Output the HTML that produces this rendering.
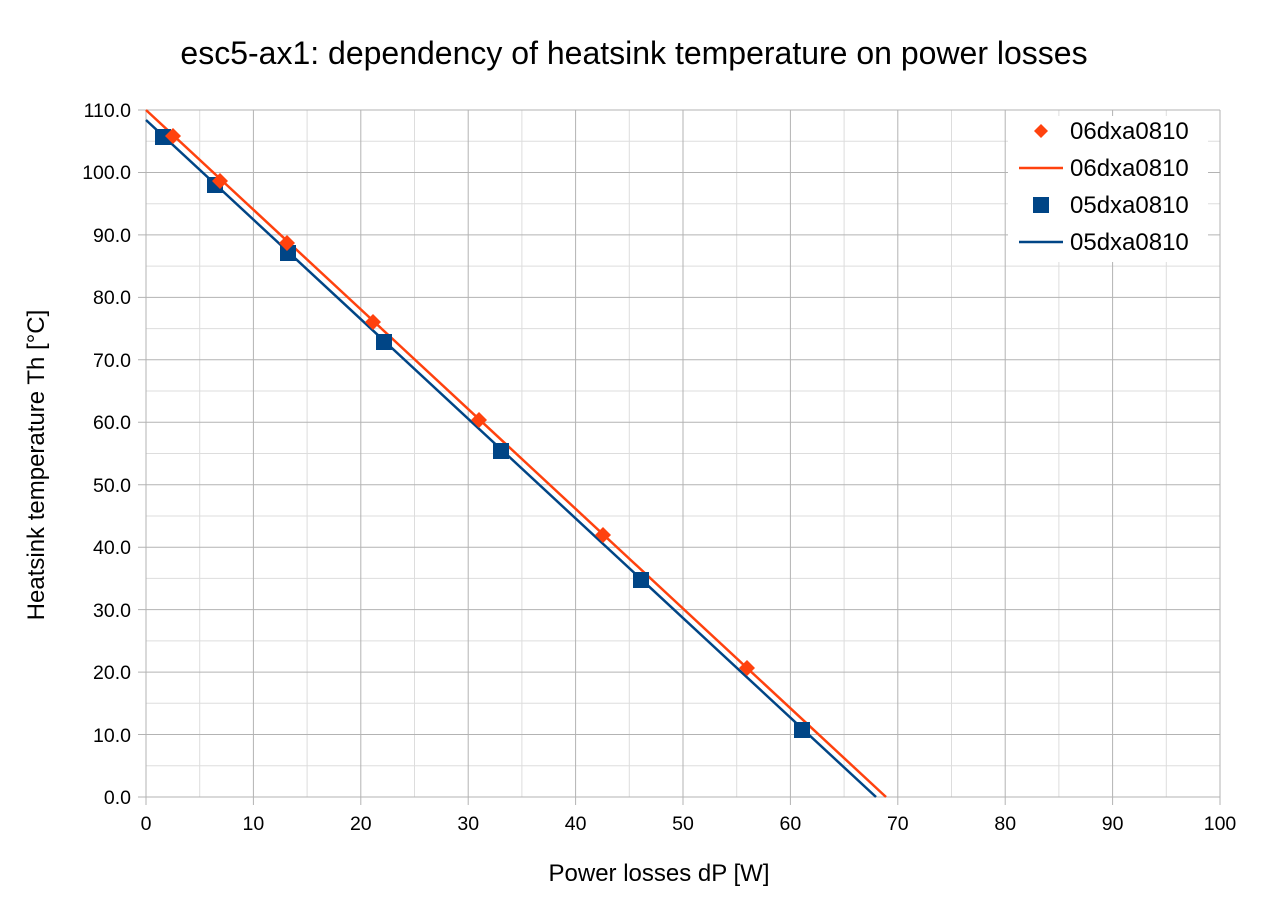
<!DOCTYPE html>
<html><head><meta charset="utf-8"><style>body{margin:0;background:#fff}svg{display:block}</style></head><body>
<svg width="1268" height="908" xmlns="http://www.w3.org/2000/svg" font-family="Liberation Sans, sans-serif">
<rect width="1268" height="908" fill="#fff"/>
<text x="634" y="64" font-size="32" text-anchor="middle" fill="#000">esc5-ax1: dependency of heatsink temperature on power losses</text>
<g stroke="#ddd" stroke-width="1">
<line x1="199.7" y1="110" x2="199.7" y2="797"/><line x1="307.1" y1="110" x2="307.1" y2="797"/><line x1="414.5" y1="110" x2="414.5" y2="797"/><line x1="521.9" y1="110" x2="521.9" y2="797"/><line x1="629.3" y1="110" x2="629.3" y2="797"/><line x1="736.7" y1="110" x2="736.7" y2="797"/><line x1="844.1" y1="110" x2="844.1" y2="797"/><line x1="951.5" y1="110" x2="951.5" y2="797"/><line x1="1058.9" y1="110" x2="1058.9" y2="797"/><line x1="1166.3" y1="110" x2="1166.3" y2="797"/>
<line x1="146" y1="141.2" x2="1220" y2="141.2"/><line x1="146" y1="203.7" x2="1220" y2="203.7"/><line x1="146" y1="266.1" x2="1220" y2="266.1"/><line x1="146" y1="328.6" x2="1220" y2="328.6"/><line x1="146" y1="391" x2="1220" y2="391"/><line x1="146" y1="453.5" x2="1220" y2="453.5"/><line x1="146" y1="516" x2="1220" y2="516"/><line x1="146" y1="578.4" x2="1220" y2="578.4"/><line x1="146" y1="640.9" x2="1220" y2="640.9"/><line x1="146" y1="703.3" x2="1220" y2="703.3"/><line x1="146" y1="765.8" x2="1220" y2="765.8"/>
</g>
<g stroke="#b3b3b3" stroke-width="1">
<line x1="253.4" y1="110" x2="253.4" y2="805"/><line x1="360.8" y1="110" x2="360.8" y2="805"/><line x1="468.2" y1="110" x2="468.2" y2="805"/><line x1="575.6" y1="110" x2="575.6" y2="805"/><line x1="683" y1="110" x2="683" y2="805"/><line x1="790.4" y1="110" x2="790.4" y2="805"/><line x1="897.8" y1="110" x2="897.8" y2="805"/><line x1="1005.2" y1="110" x2="1005.2" y2="805"/><line x1="1112.6" y1="110" x2="1112.6" y2="805"/><line x1="1220" y1="110" x2="1220" y2="805"/><line x1="146" y1="110" x2="146" y2="805"/>
<line x1="138" y1="110" x2="1220" y2="110"/><line x1="138" y1="172.5" x2="1220" y2="172.5"/><line x1="138" y1="234.9" x2="1220" y2="234.9"/><line x1="138" y1="297.4" x2="1220" y2="297.4"/><line x1="138" y1="359.8" x2="1220" y2="359.8"/><line x1="138" y1="422.3" x2="1220" y2="422.3"/><line x1="138" y1="484.7" x2="1220" y2="484.7"/><line x1="138" y1="547.2" x2="1220" y2="547.2"/><line x1="138" y1="609.6" x2="1220" y2="609.6"/><line x1="138" y1="672.1" x2="1220" y2="672.1"/><line x1="138" y1="734.5" x2="1220" y2="734.5"/><line x1="138" y1="797" x2="1220" y2="797"/>
</g>
<g font-size="19.5" fill="#000" text-anchor="end">
<text x="131" y="117">110.0</text><text x="131" y="179">100.0</text><text x="131" y="242">90.0</text><text x="131" y="304">80.0</text><text x="131" y="367">70.0</text><text x="131" y="429">60.0</text><text x="131" y="492">50.0</text><text x="131" y="554">40.0</text><text x="131" y="617">30.0</text><text x="131" y="679">20.0</text><text x="131" y="742">10.0</text><text x="131" y="804">0.0</text>
</g>
<g font-size="19.5" fill="#000" text-anchor="middle">
<text x="146" y="830">0</text><text x="253.4" y="830">10</text><text x="360.8" y="830">20</text><text x="468.2" y="830">30</text><text x="575.6" y="830">40</text><text x="683" y="830">50</text><text x="790.4" y="830">60</text><text x="897.8" y="830">70</text><text x="1005.2" y="830">80</text><text x="1112.6" y="830">90</text><text x="1220" y="830">100</text>
</g>
<text x="659" y="881" font-size="24" text-anchor="middle">Power losses dP [W]</text>
<text transform="translate(44,465) rotate(-90)" font-size="24" text-anchor="middle">Heatsink temperature Th [°C]</text>
<line x1="146" y1="110" x2="886" y2="797" stroke="#ff420e" stroke-width="2.5"/>
<line x1="146" y1="120" x2="876" y2="797" stroke="#004586" stroke-width="2.5"/>
<g fill="#004586">
<rect x="155" y="129" width="16" height="16"/><rect x="207" y="177" width="16" height="16"/><rect x="280" y="245" width="16" height="16"/><rect x="376" y="334" width="16" height="16"/><rect x="493" y="443" width="16" height="16"/><rect x="633" y="572" width="16" height="16"/><rect x="794" y="722" width="16" height="16"/>
</g>
<g fill="#ff420e">
<path d="M173 128l8 8-8 8-8-8z"/><path d="M220 173l8 8-8 8-8-8z"/><path d="M287 235l8 8-8 8-8-8z"/><path d="M373 314l8 8-8 8-8-8z"/><path d="M479 412l8 8-8 8-8-8z"/><path d="M603 527l8 8-8 8-8-8z"/><path d="M747 660l8 8-8 8-8-8z"/>
</g>
<rect x="1008" y="116" width="200" height="146" fill="#fff"/>
<path d="M1041 124l7 7-7 7-7-7z" fill="#ff420e"/>
<line x1="1019" y1="168" x2="1063" y2="168" stroke="#ff420e" stroke-width="2.5"/>
<rect x="1033" y="197" width="16" height="16" fill="#004586"/>
<line x1="1019" y1="242" x2="1063" y2="242" stroke="#004586" stroke-width="2.5"/>
<g font-size="24" fill="#000">
<text x="1070" y="139">06dxa0810</text><text x="1070" y="176">06dxa0810</text><text x="1070" y="213">05dxa0810</text><text x="1070" y="250">05dxa0810</text>
</g>
</svg>
</body></html>
